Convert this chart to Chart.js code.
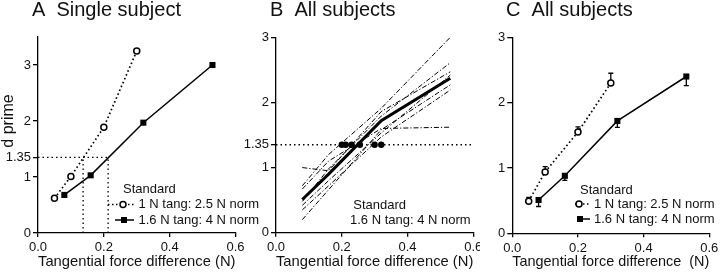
<!DOCTYPE html>
<html><head><meta charset="utf-8">
<script src="https://cdn.jsdelivr.net/npm/chart.js@4/dist/chart.umd.min.js"></script>
<style>
html,body{margin:0;padding:0;background:#fff;width:720px;height:272px;overflow:hidden}
.p{position:absolute;top:0;height:272px}
canvas{display:block}
</style></head><body>
<div class="p" style="left:0;width:270px"><canvas id="cA" width="270" height="272"></canvas></div>
<div class="p" style="left:240px;width:240px"><canvas id="cB" width="240" height="272"></canvas></div>
<div class="p" style="left:480px;width:240px"><canvas id="cC" width="240" height="272"></canvas></div>
<script>
// ---------- data ----------
const xTickValues = [0, 0.2, 0.4, 0.6];
const yTicksAB = [0, 1, 1.35, 2, 3];
const yTicksC = [0, 1, 2, 3];
const threshold = 1.35;

const panelTitles = ['A  Single subject', 'B  All subjects', 'C  All subjects'];
const xAxisTitle = 'Tangential force difference (N)';
const xAxisTitleC = 'Tangential force difference  (N)';
const yAxisTitle = 'd prime';
const legendHeading = 'Standard';
const seriesLabels = ['1 N tang: 2.5 N norm', '1.6 N tang: 4 N norm'];

// Panel A: single subject
const singleLightX = [0.05, 0.10, 0.20, 0.30];
const singleLightY = [0.62, 1.01, 1.89, 3.25];
const singleHeavyX = [0.08, 0.16, 0.32, 0.53];
const singleHeavyY = [0.68, 1.03, 1.97, 3.00];
const singleThresholdX = [0.137, 0.213];

// Panel B: all subjects, 1.6 N tang standard
const allX = [0.08, 0.16, 0.32, 0.53];
const subject1 = [0.72, 1.20, 1.91, 3.00];
const subject2 = [1.00, 0.95, 1.86, 2.47];
const subject3 = [0.67, 1.10, 1.60, 1.62];
const subject4 = [0.48, 0.98, 1.79, 2.61];
const subject5 = [0.42, 0.80, 1.53, 2.42];
const subject6 = [0.35, 0.72, 1.47, 2.19];
const subject7 = [0.20, 0.66, 1.58, 2.27];
const meanAll = [0.51, 0.90, 1.72, 2.37];
const thresholdDotsX = [0.200, 0.212, 0.230, 0.255, 0.300, 0.320];

// Panel C: group means with error bars
const groupLightX = [0.05, 0.10, 0.20, 0.30];
const groupLightY = [0.49, 0.94, 1.55, 2.30];
const groupLightErr = [0.06, 0.08, 0.08, 0.15];
const groupHeavyX = [0.08, 0.16, 0.32, 0.53];
const groupHeavyY = [0.51, 0.88, 1.72, 2.40];
const groupHeavyErr = [0.10, 0.07, 0.10, 0.14];

// ---------- helpers ----------
const FONT = "'Liberation Sans', Arial, Helvetica, sans-serif";
const INK = '#111';
const pts = (xs, ys) => xs.map((x, i) => ({x, y: ys[i]}));

function scales(o) {
  const axisGrid = {display: true, drawOnChartArea: false, drawTicks: true, tickLength: 5, color: '#000', tickColor: '#000', lineWidth: 1.3};
  return {
    x: {
      type: 'linear', min: 0, max: 0.6,
      afterBuildTicks: s => { s.ticks = xTickValues.map(v => ({value: v})); },
      afterFit: s => { s.height = o.xh; s.paddingLeft = 0; s.paddingRight = 0; },
      grid: Object.assign({}, axisGrid, {tickLength: 4}),
      border: {display: true, color: '#000', width: 1.3},
      ticks: {font: {family: FONT, size: 13}, color: INK, padding: 3, maxRotation: 0, autoSkip: false, callback: v => Number(v).toFixed(1)},
      title: {display: true, text: o.xTitle, font: {family: FONT, size: 15}, color: INK, padding: {top: 0, bottom: 1}}
    },
    y: {
      type: 'linear', min: 0, max: o.ymax,
      afterBuildTicks: s => { s.ticks = o.yTicks.map(v => ({value: v})); },
      afterFit: s => { s.width = o.yw; s.paddingTop = 0; s.paddingBottom = 0; },
      grid: axisGrid,
      border: {display: true, color: '#000', width: 1.3},
      ticks: {font: {family: FONT, size: 13}, color: INK, padding: 2, autoSkip: false, callback: v => String(v)}
    }
  };
}

function lineDs(data, extra) {
  return Object.assign({
    data, showLine: true, borderColor: '#000', borderWidth: 1.5, pointRadius: 0,
    fill: false, tension: 0, clip: false
  }, extra);
}
const lightStyle = {borderDash: [1.6, 2.6], borderWidth: 1.7, pointStyle: 'circle', pointRadius: 3, pointBorderWidth: 1.5, pointBackgroundColor: '#fff', pointBorderColor: '#000'};
const heavyStyle = {borderWidth: 1.5, pointStyle: 'rect', pointRadius: 4.3, pointBorderWidth: 0, pointBackgroundColor: '#000', pointBorderColor: '#000'};
const refStyle = {borderDash: [1.5, 3], borderWidth: 1.3};

function title(ctx, text, x) {
  ctx.font = `20px ${FONT}`; ctx.fillStyle = INK; ctx.textAlign = 'left'; ctx.textBaseline = 'alphabetic';
  ctx.fillText(text, x, 16);
}
function label(ctx, text, x, y) {
  ctx.font = `13px ${FONT}`; ctx.fillStyle = INK; ctx.textAlign = 'left'; ctx.textBaseline = 'middle';
  ctx.fillText(text, x, y);
}
function seg(ctx, x0, x1, y, dash) {
  ctx.save(); ctx.setLineDash(dash); ctx.strokeStyle = '#000'; ctx.lineWidth = 1.5;
  ctx.beginPath(); ctx.moveTo(x0, y); ctx.lineTo(x1, y); ctx.stroke(); ctx.restore();
}
function circ(ctx, x, y) {
  ctx.beginPath(); ctx.arc(x, y, 3, 0, Math.PI * 2); ctx.fillStyle = '#fff'; ctx.fill();
  ctx.lineWidth = 1.5; ctx.strokeStyle = '#000'; ctx.stroke();
}
function sq(ctx, x, y) { ctx.fillStyle = '#000'; ctx.fillRect(x - 3, y - 3, 6, 6); }
function overlay(id, fn) { return {id, afterDraw(chart) { const c = chart.ctx; c.save(); fn(c, chart); c.restore(); }}; }

const baseOpts = (sc, pad) => ({
  responsive: false, animation: false, devicePixelRatio: 1, events: [],
  layout: {padding: pad},
  plugins: {legend: {display: false}, tooltip: {enabled: false}, title: {display: false}},
  scales: sc
});

// ---------- Panel A ----------
new Chart(document.getElementById('cA'), {
  type: 'scatter',
  data: {datasets: [
    lineDs([{x: 0, y: threshold}, {x: singleThresholdX[1], y: threshold}], refStyle),
    lineDs([{x: singleThresholdX[0], y: 0}, {x: singleThresholdX[0], y: threshold}], refStyle),
    lineDs([{x: singleThresholdX[1], y: 0}, {x: singleThresholdX[1], y: threshold}], refStyle),
    lineDs(pts(singleLightX, singleLightY), lightStyle),
    lineDs(pts(singleHeavyX, singleHeavyY), heavyStyle)
  ]},
  options: baseOpts(scales({xh: 39, yw: 38, ymax: 3.5, yTicks: yTicksAB, xTitle: xAxisTitle}),
                    {top: 37, right: 34.5, left: 0, bottom: 0}),
  plugins: [overlay('txtA', ctx => {
    title(ctx, panelTitles[0], 32);
    ctx.save(); ctx.translate(9, 121); ctx.rotate(-Math.PI / 2);
    ctx.font = `16px ${FONT}`; ctx.fillStyle = INK; ctx.textAlign = 'center'; ctx.textBaseline = 'middle';
    ctx.fillText(yAxisTitle, 0, 0); ctx.restore();
    label(ctx, legendHeading, 123, 189);
    seg(ctx, 108, 134, 204.5, [1.5, 2.5]); circ(ctx, 123, 204.5);
    label(ctx, seriesLabels[0], 138.5, 204.5);
    seg(ctx, 115, 134, 220, []); sq(ctx, 124, 220);
    label(ctx, seriesLabels[1], 138.5, 220);
  })]
});

// ---------- Panel B ----------
const subjStyle = {borderDash: [5, 2, 1.2, 2], borderWidth: 1, borderColor: '#000'};
new Chart(document.getElementById('cB'), {
  type: 'scatter',
  data: {datasets: [
    lineDs([{x: 0, y: threshold}, {x: 0.6, y: threshold}], refStyle),
    ...[subject1, subject2, subject3, subject4, subject5, subject6, subject7].map(s => lineDs(pts(allX, s), subjStyle)),
    lineDs(pts(allX, meanAll), {borderWidth: 3}),
    {data: thresholdDotsX.map(x => ({x, y: threshold})), showLine: false, pointRadius: 3.2, pointStyle: 'circle',
     pointBackgroundColor: '#000', pointBorderColor: '#000', pointBorderWidth: 0, clip: false}
  ]},
  options: baseOpts(scales({xh: 39.3, yw: 36, ymax: 3, yTicks: yTicksAB, xTitle: xAxisTitle}),
                    {top: 37.3, right: 6.7, left: 0, bottom: 0}),
  plugins: [overlay('txtB', ctx => {
    title(ctx, panelTitles[1], 30);
    label(ctx, legendHeading, 113.3, 205);
    label(ctx, seriesLabels[1], 110, 220);
  })]
});

// ---------- Panel C ----------
const errorBars = {
  id: 'errorBars',
  beforeDatasetsDraw(chart) {
    const {ctx, scales: {x, y}} = chart;
    ctx.save(); ctx.strokeStyle = '#000'; ctx.lineWidth = 1.3;
    const draw = (xs, ys, errs, dir) => xs.forEach((xv, i) => {
      const px = x.getPixelForValue(xv);
      const p0 = y.getPixelForValue(ys[i]);
      const p1 = y.getPixelForValue(ys[i] + dir * errs[i]);
      ctx.beginPath(); ctx.moveTo(px, p0); ctx.lineTo(px, p1);
      ctx.moveTo(px - 2.5, p1); ctx.lineTo(px + 2.5, p1); ctx.stroke();
    });
    draw(groupLightX, groupLightY, groupLightErr, 1);
    draw(groupHeavyX, groupHeavyY, groupHeavyErr, -1);
    ctx.restore();
  }
};
new Chart(document.getElementById('cC'), {
  type: 'scatter',
  data: {datasets: [
    lineDs(pts(groupLightX, groupLightY), lightStyle),
    lineDs(pts(groupHeavyX, groupHeavyY), heavyStyle)
  ]},
  options: baseOpts(scales({xh: 38.7, yw: 32.3, ymax: 3, yTicks: yTicksC, xTitle: xAxisTitleC}),
                    {top: 37.3, right: 10.7, left: 0, bottom: 0}),
  plugins: [errorBars, overlay('txtC', ctx => {
    title(ctx, panelTitles[2], 26);
    label(ctx, legendHeading, 100, 190);
    seg(ctx, 95, 111, 204, [1.5, 2.5]); circ(ctx, 99, 204);
    label(ctx, seriesLabels[0], 114, 204);
    seg(ctx, 100, 110, 219, []); sq(ctx, 100, 219);
    label(ctx, seriesLabels[1], 114, 219);
  })]
});
</script>
</body></html>
